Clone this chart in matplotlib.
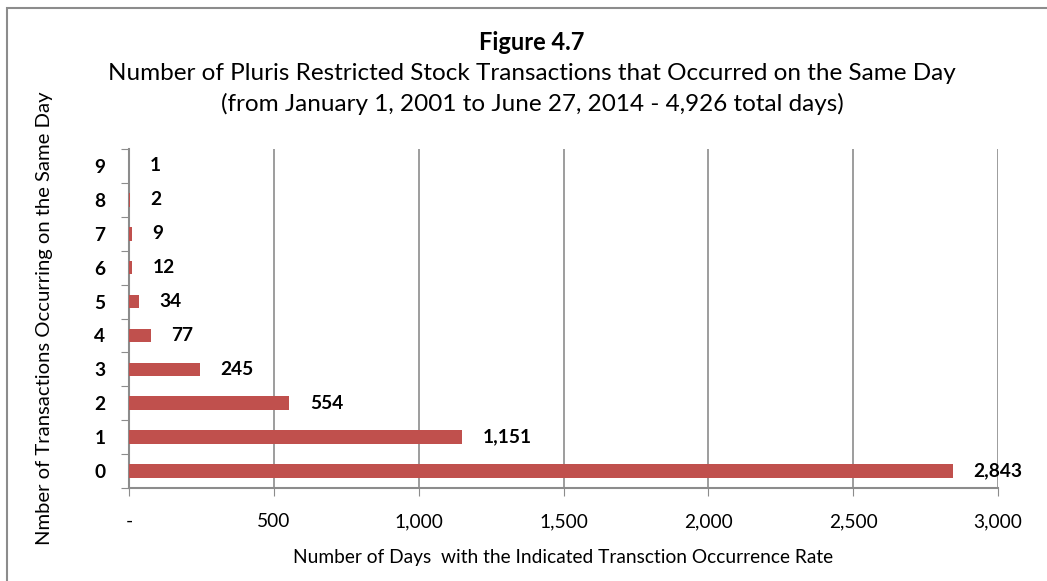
import numpy as np
import matplotlib as mpl
mpl.use('Agg')
import matplotlib.pyplot as plt
from matplotlib.patches import Rectangle

# data
categories = ['0', '1', '2', '3', '4', '5', '6', '7', '8', '9']
days = [2843, 1151, 554, 245, 77, 34, 12, 9, 2, 1]
xticks = [0, 500, 1000, 1500, 2000, 2500, 3000]
xticklabels = ['-', '500', '1,000', '1,500', '2,000', '2,500', '3,000']

plt.rcParams['font.family'] = ['Lato', 'DejaVu Sans']

W, H = 1047, 581
fig = plt.figure(figsize=(W/100, H/100), dpi=100)
ax = fig.add_axes([129/W, 1-488/H, (998-129)/W, (488-149)/H])

# outer chart border
fig.patches.append(Rectangle((7/W, -0.05), 1.2, 1-8/H+0.05, transform=fig.transFigure,
                             fill=False, edgecolor='#8c8c8c', linewidth=1.5))

fs = 13.8
y = np.arange(len(categories))
ax.barh(y, days, height=0.4, color='#C0504D', zorder=3)
for yi, v in zip(y, days):
	ax.text(v + 70, yi, '{:,}'.format(v), va='center', ha='left',
	        fontsize=fs, fontweight='bold', color='black')

ax.set_xlim(0, 3000)
ax.set_ylim(-0.5, len(categories)-0.5)
ax.set_xticks(xticks)
ax.set_xticklabels(xticklabels, fontsize=fs)
ax.set_yticks(np.arange(len(categories)+1)-0.5, minor=False)
ax.set_yticklabels([])
ax.set_yticks(y, minor=True)
ax.set_yticklabels(categories, minor=True, fontsize=fs, fontweight='bold')
ax.tick_params(axis='y', which='minor', length=0, pad=17)
ax.tick_params(axis='y', which='major', length=6, color='#8c8c8c', direction='out')
ax.tick_params(axis='x', length=6, color='#8c8c8c', pad=12)

ax.grid(axis='x', color='#8c8c8c', linewidth=1.2, zorder=0)
for s in ['top', 'right']:
	ax.spines[s].set_visible(False)
for s in ['left', 'bottom']:
	ax.spines[s].set_color('#8c8c8c')
	ax.spines[s].set_linewidth(1.5)

ax.set_xlabel('Number of Days  with the Indicated Transction Occurrence Rate', fontsize=fs, labelpad=14)
fig.text(45/W, 1-(149+488)/2/H, 'Nmber of Transactions Occurring on the Same Day',
         rotation=90, ha='center', va='center', fontsize=fs+0.8)

fig.text(532/W, 1-42/H, 'Figure 4.7', ha='center', va='center', fontsize=17, fontweight='bold')
fig.text(532/W, 1-73/H, 'Number of Pluris Restricted Stock Transactions that Occurred on the Same Day',
         ha='center', va='center', fontsize=17.5)
fig.text(532/W, 1-104/H, '(from January 1, 2001 to June 27, 2014 - 4,926 total days)',
         ha='center', va='center', fontsize=17.5)

fig.savefig('out.png', dpi=100)
